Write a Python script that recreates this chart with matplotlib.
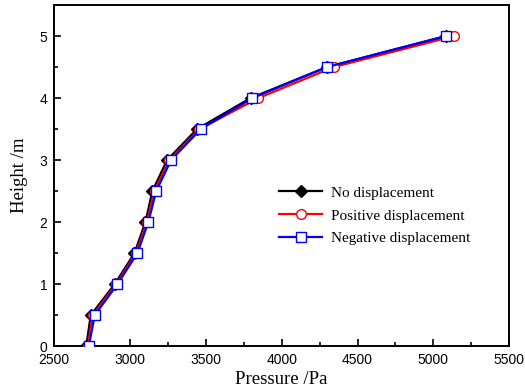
import matplotlib
matplotlib.use("Agg")
import matplotlib.pyplot as plt
from matplotlib.ticker import MultipleLocator

heights = [0, 0.5, 1, 1.5, 2, 2.5, 3, 3.5, 4, 4.5, 5]
p_none = [2712, 2742, 2900, 3030, 3102, 3148, 3245, 3442, 3795, 4298, 5082]
p_pos = [2722, 2755, 2910, 3040, 3112, 3162, 3260, 3458, 3846, 4343, 5134]
p_neg = [2729, 2768, 2918, 3049, 3121, 3173, 3271, 3467, 3807, 4297, 5082]

labels = ["No displacement", "Positive displacement", "Negative displacement"]

fig = plt.figure(figsize=(5.25, 3.92), dpi=100)
ax = fig.add_axes([0.103, 0.117, 0.867, 0.870])

ax.plot(p_none, heights, color="black", lw=1.6, marker="D", ms=6,
        mfc="black", mec="black", label=labels[0], zorder=3)
ax.plot(p_pos, heights, color="red", lw=1.6, marker="o", ms=7,
        mfc="white", mec="red", mew=1.0, label=labels[1], zorder=4)
ax.plot(p_neg, heights, color="blue", lw=1.6, marker="s", ms=7,
        mfc="white", mec="blue", mew=1.0, label=labels[2], zorder=5)

ax.set_xlim(2500, 5500)
ax.set_ylim(0, 5.5)
ax.xaxis.set_major_locator(MultipleLocator(500))
ax.xaxis.set_minor_locator(MultipleLocator(250))
ax.yaxis.set_major_locator(MultipleLocator(1))
ax.yaxis.set_minor_locator(MultipleLocator(0.5))
ax.tick_params(which="both", direction="in", top=False, right=False,
               width=1.2, labelsize=10)
ax.tick_params(axis="x", pad=5)
ax.tick_params(axis="y", pad=5)
ax.tick_params(which="major", length=5)
ax.tick_params(which="minor", length=3)
for lab in ax.get_xticklabels() + ax.get_yticklabels():
    lab.set_fontfamily("Liberation Sans")
for s in ax.spines.values():
    s.set_linewidth(1.4)

ax.set_xlabel("Pressure /Pa", fontfamily="Liberation Serif", fontsize=13.5, labelpad=3)
ax.set_ylabel("Height /m", fontfamily="Liberation Serif", fontsize=13.5, labelpad=8)

leg = ax.legend(loc="upper left", bbox_to_anchor=(0.465, 0.51), frameon=False,
                prop={"family": "Liberation Serif", "size": 11},
                handlelength=2.8, labelspacing=0.6, handletextpad=0.6)

fig.savefig("out.png", dpi=100)
